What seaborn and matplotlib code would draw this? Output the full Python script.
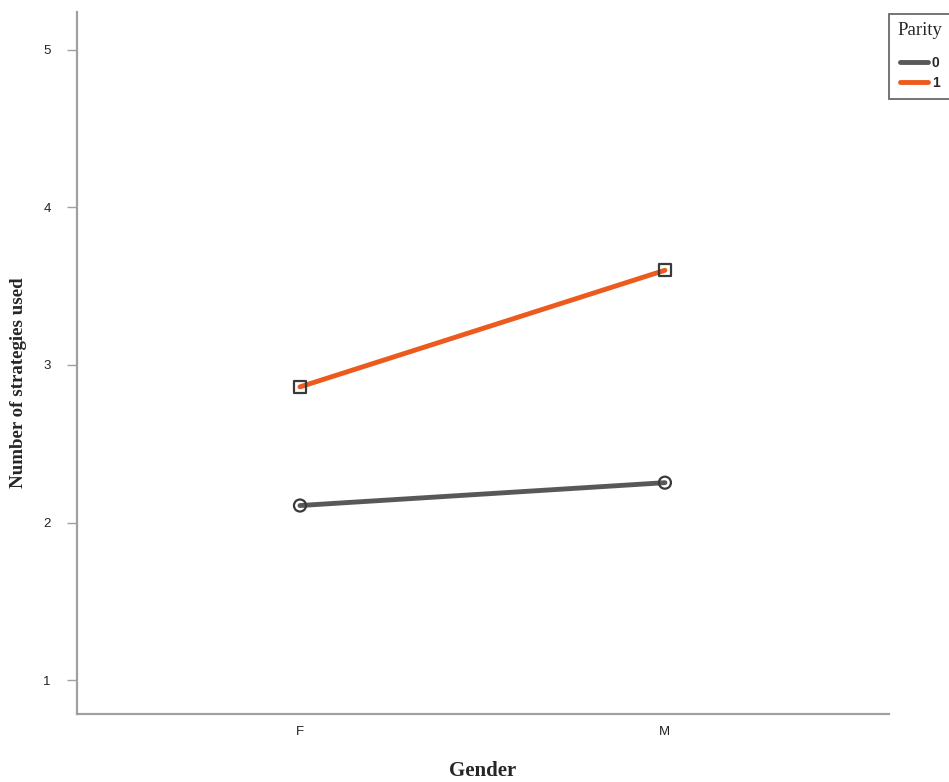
import matplotlib
matplotlib.use("Agg")
import matplotlib.pyplot as plt
import seaborn as sns
import pandas as pd
from matplotlib.lines import Line2D

genders = ["F", "M"]
parity0 = [2.108, 2.253]
parity1 = [2.861, 3.601]
parity_levels = ["0", "1"]
yticks = [1, 2, 3, 4, 5]

df = pd.DataFrame({
    "Gender": genders * 2,
    "x": [0, 1, 0, 1],
    "value": parity0 + parity1,
    "Parity": ["0", "0", "1", "1"],
})

sns.set_style("white")
palette = {"0": "#585858", "1": "#ec5a1e"}

fig = plt.figure(figsize=(9.49, 7.82), dpi=100)
ax = fig.add_axes([77/949, 1 - 714/782, (889-77)/949, (714-12)/782])

sns.lineplot(data=df, x="x", y="value", hue="Parity", palette=palette,
             linewidth=3.5, ax=ax, legend=False, zorder=2)
sns.scatterplot(data=df, x="x", y="value", style="Parity",
                markers={"0": "o", "1": "s"}, s=75, facecolor="none",
                edgecolor="#3a3a3a", linewidth=1.6, ax=ax, legend=False, zorder=3)
for c in ax.collections:
    c.set_facecolor("none")
    c.set_edgecolor("#3a3a3a")

ax.set_xlim(-0.611, 1.614)
ax.set_ylim(0.785, 5.24)
ax.set_xticks([0, 1])
ax.set_xticklabels(genders)
ax.set_yticks(yticks)
ax.set_yticklabels([str(t) for t in yticks])
ax.set_xlabel("")
ax.set_ylabel("")

for s in ["top", "right"]:
    ax.spines[s].set_visible(False)
for s in ["left", "bottom"]:
    ax.spines[s].set_color("#a0a0a0")
    ax.spines[s].set_linewidth(1.6)
ax.tick_params(axis="y", length=7, width=1, color="#a0a0a0",
               labelsize=9.5, labelcolor="#222222", pad=12, direction="out",
               left=True)
ax.tick_params(axis="x", bottom=False, labelsize=9.5, labelcolor="#222222", pad=5)
for lbl in ax.get_xticklabels() + ax.get_yticklabels():
    lbl.set_fontfamily("Liberation Sans")

fig.text(483/949, 1 - 771/782, "Gender", fontfamily="Liberation Serif",
         fontweight="bold", fontsize=15, ha="center", va="center")
fig.text(19/949, 1 - 383/782, "Number of strategies used", fontfamily="Liberation Serif",
         fontweight="bold", fontsize=13.6, ha="center", va="center", rotation=90)

handles = [Line2D([0], [0], color=palette[p], linewidth=3.5) for p in parity_levels]
leg = fig.legend(handles, parity_levels, title="Parity", loc="upper left",
                 bbox_to_anchor=(889/949, 1 - 14/782), frameon=True,
                 fancybox=False, handlelength=2.0, handletextpad=0.3,
                 borderpad=0.6, labelspacing=0.45, fontsize=10,
                 borderaxespad=0)
leg._legend_box.sep = 12
leg.get_frame().set_edgecolor("#444444")
leg.get_frame().set_linewidth(1.3)
leg.get_title().set_fontfamily("Liberation Serif")
leg.get_title().set_fontsize(13.5)
for t in leg.get_texts():
    t.set_fontfamily("Liberation Sans")
    t.set_fontweight("bold")

fig.savefig("out.png", dpi=100)
